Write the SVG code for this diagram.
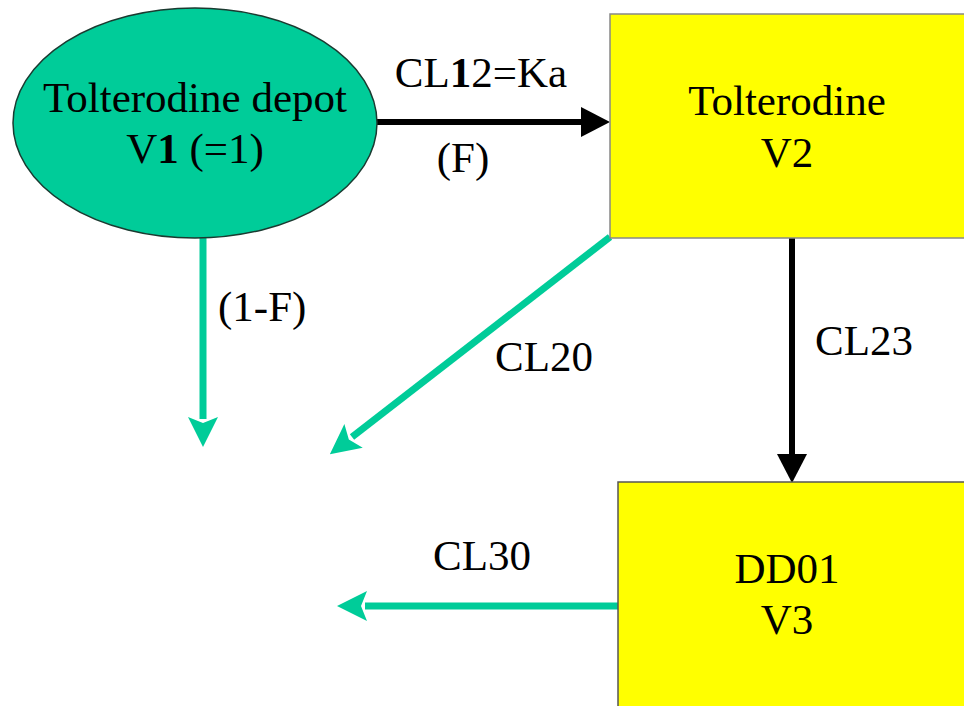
<svg xmlns="http://www.w3.org/2000/svg" width="964" height="706" viewBox="0 0 964 706">
<style>
text{font-family:'Liberation Serif','DejaVu Serif',serif;font-size:43px;fill:#000}
.m{text-anchor:middle}
.g{stroke:#00CC99;stroke-width:7;fill:none}
.k{stroke:#000;stroke-width:6;fill:none}
</style>
<defs>
<marker id="ag" markerUnits="userSpaceOnUse" markerWidth="32" markerHeight="32" refX="2" refY="16" orient="auto" viewBox="0 0 32 32">
<path d="M0,1 L30,16 L0,31 L6,16 z" fill="#00CC99"/>
</marker>
<marker id="ak" markerUnits="userSpaceOnUse" markerWidth="32" markerHeight="32" refX="1" refY="16" orient="auto" viewBox="0 0 32 32">
<path d="M0,1 L29,16 L0,31 z" fill="#000"/>
</marker>
</defs>
<rect width="964" height="706" fill="#fff"/>
<g id="connectors" font-family="Liberation Serif, serif">
<line class="k" x1="377" y1="122" x2="582" y2="122" marker-end="url(#ak)"/>
<line class="g" x1="203" y1="238" x2="203" y2="419" marker-end="url(#ag)"/>
<line class="g" x1="610" y1="237" x2="352" y2="437" marker-end="url(#ag)"/>
<line class="k" x1="792" y1="238" x2="792" y2="455" marker-end="url(#ak)"/>
<line class="g" x1="618" y1="606" x2="365" y2="606" marker-end="url(#ag)"/>
<text class="m" x="481" y="87">CL<tspan font-weight="bold">1</tspan>2=Ka</text>
<text class="m" x="463" y="172">(F)</text>
<text x="218" y="321">(1-F)</text>
<text x="495" y="371">CL20</text>
<text x="815" y="355">CL23</text>
<text x="433" y="570">CL30</text>
</g>
<g id="depot">
<ellipse cx="195" cy="123" rx="182" ry="115" fill="#00CC99" stroke="#1a3a30" stroke-width="1.5"/>
<text class="m" x="195" y="112">Tolterodine depot</text>
<text class="m" x="195" y="163">V<tspan font-weight="bold">1</tspan> (=1)</text>
</g>
<g id="v2">
<rect x="610" y="14" width="360" height="224" fill="#FFFF00" stroke="#888" stroke-width="1.5"/>
<text class="m" x="787" y="115">Tolterodine</text>
<text class="m" x="787" y="167">V2</text>
</g>
<g id="v3">
<rect x="618" y="482" width="352" height="230" fill="#FFFF00" stroke="#555" stroke-width="1.5"/>
<text class="m" x="787" y="583">DD01</text>
<text class="m" x="787" y="634">V3</text>
</g>
</svg>
